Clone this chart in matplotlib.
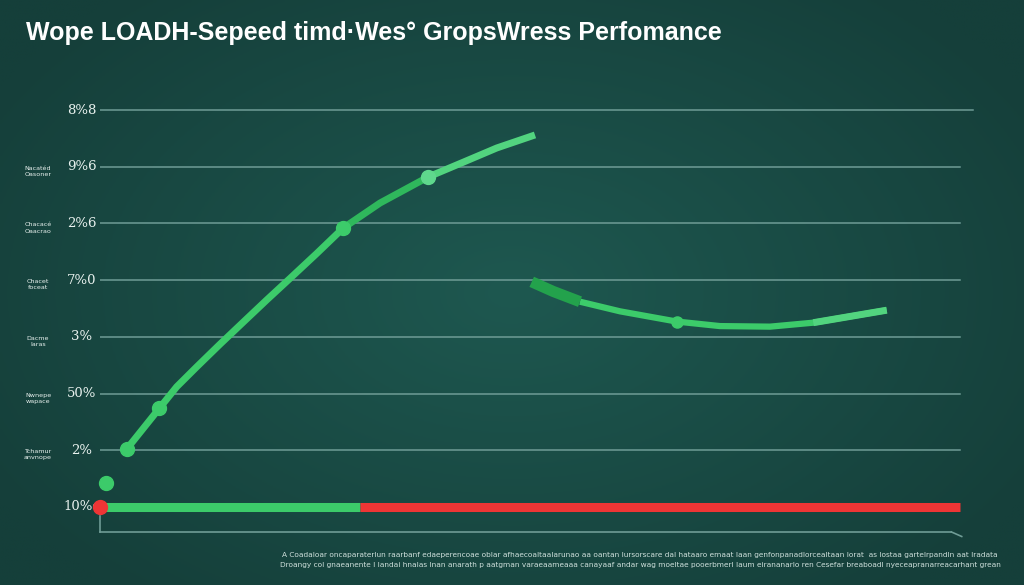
import numpy as np
import matplotlib
matplotlib.use('Agg')
import matplotlib.pyplot as plt

# values (x on a 0-100 scale, y in grid steps)
rise_x = [3.10, 6.90, 8.92, 11.24, 13.95, 16.66, 19.38, 22.09, 25.20, 28.29,
          32.56, 38.17, 42.24, 46.13, 50.58]
rise_y = [1.02, 1.74, 2.12, 2.47, 2.87, 3.26, 3.65, 4.03, 4.47, 4.92,
          5.36, 5.82, 6.08, 6.33, 6.56]
rise_marker_x = [3.10, 6.90, 28.29, 38.17]
rise_marker_y = [1.02, 1.74, 4.92, 5.82]

dip_x = [50.20, 52.71, 55.81, 60.47, 67.05, 72.09, 77.91, 82.94, 86.05, 91.48]
dip_y = [3.97, 3.80, 3.62, 3.45, 3.27, 3.19, 3.18, 3.25, 3.33, 3.47]
dip_marker_x = [67.05]
dip_marker_y = [3.27]

base_green = [0, 30.2]
base_red = [30.2, 100]
start_dot = (0.7, 0.42)

tick_vals = [0, 1, 2, 3, 4, 5, 6, 7]
tick_labels = ['10%o', '2%', '50%', '3%', '7%0', '2%6', '9%6', '8%8']
side_labels = ['', 'Tchamur\nanvnope', 'Nwnepe\nwapace', 'Dacme\nlaras',
               'Chacet\nfoceat', 'Chacacé\nOaacrao', 'Nacatéd\nOasoner', '']
title = 'Wope LOADH-Sepeed timd·Wes\u00b0 GropsWress Perfomance'
caption = ('A Coadaloar oncaparaterlun raarbanf edaeperencoae oblar afhaecoaltaalarunao aa'
           ' oantan lursorscare dal hataaro emaat laan genfonpanadlorcealtaan lorat  as'
           ' lostaa gartelrpandln aat lradata\n'
           'Droangy col gnaeanente l landai hnalas Inan anarath p aatgman varaeaameaaa'
           ' canayaaf andar wag moeltae pooerbmerl laum eirananarlo ren Cesefar breaboadl'
           ' nyeceapranarreacarhant grean')

grn = '#3ccb6a'
grn_mid = '#2fb85c'
grn_light = '#52d47f'
grn_dark = '#23a24c'
red = '#ee3535'
grid_c = '#6f9c96'
txt = '#e8f1ee'

fig = plt.figure(figsize=(10.24, 5.85), dpi=100)

# background gradient
bg = fig.add_axes([0, 0, 1, 1])
gx = np.linspace(-1, 1, 300)
gy = np.linspace(-1, 1, 200)
X, Y = np.meshgrid(gx, gy)
r = np.sqrt((X * 0.85) ** 2 + (Y * 0.75) ** 2)
c_in = np.array([30, 88, 80]) / 255
c_out = np.array([21, 63, 58]) / 255
t = np.clip(r, 0, 1)[..., None]
img = c_in * (1 - t) + c_out * t
bg.imshow(img, aspect='auto', extent=[0, 1, 0, 1])
bg.axis('off')

ppu = 56.71
ax = fig.add_axes([100 / 1024, 55 / 585, 880 / 1024, 475 / 585])
ax.patch.set_alpha(0)
ax.set_xlim(0, 100 * 880 / 860)
ax.set_ylim(-23 / ppu, 7 + 55 / ppu)
for s in ax.spines.values():
    s.set_visible(False)
ax.set_xticks([])
ax.set_yticks([])

for v in tick_vals[1:]:
    ax.plot([0, 100 if v < 7 else 101.5], [v, v], color=grid_c, lw=1.1, zorder=1)

ax.plot(base_green, [0, 0], color=grn, lw=6.5, solid_capstyle='butt', zorder=3)
ax.plot(base_red, [0, 0], color=red, lw=6.5, solid_capstyle='butt', zorder=3)
ax.plot([0], [0], 'o', color=red, ms=10, zorder=4, clip_on=False)
ax.plot([start_dot[0]], [start_dot[1]], 'o', color=grn, ms=10, zorder=4, clip_on=False)

# rising line, a little darker between the 3rd and 4th dots, lighter after
i3, i4 = rise_x.index(28.29), rise_x.index(38.17)
ax.plot(rise_x[:i3 + 1], rise_y[:i3 + 1], color=grn, lw=5, zorder=3,
        solid_capstyle='round', solid_joinstyle='round')
ax.plot(rise_x[i3:i4 + 1], rise_y[i3:i4 + 1], color=grn_mid, lw=5, zorder=3,
        solid_joinstyle='round')
ax.plot(rise_x[i4:], rise_y[i4:], color=grn_light, lw=5, zorder=3,
        solid_capstyle='butt', solid_joinstyle='round')
ax.plot(rise_marker_x[:3], rise_marker_y[:3], 'o', color=grn, ms=10, zorder=4)
ax.plot(rise_marker_x[3:], rise_marker_y[3:], 'o', color='#5fd88d', ms=10, zorder=4)

ax.plot(dip_x[2:], dip_y[2:], color=grn, lw=4.5, solid_capstyle='butt',
        solid_joinstyle='round', zorder=3)
ax.plot(dip_x[:3], dip_y[:3], color=grn_dark, lw=8, solid_capstyle='butt',
        solid_joinstyle='round', zorder=3)
ax.plot(dip_x[-3:], dip_y[-3:], color=grn_light, lw=5, solid_capstyle='butt',
        solid_joinstyle='round', zorder=3)
ax.plot(dip_marker_x, dip_marker_y, 'o', color=grn, ms=8, zorder=4)

# bottom axis line with little end tick
ax.plot([0, 0], [-0.15, -0.44], color=grid_c, lw=1.2, clip_on=False)
ax.plot([0, 99], [-0.44, -0.44], color=grid_c, lw=1.2, clip_on=False)
ax.plot([99, 100.2], [-0.44, -0.52], color=grid_c, lw=1.2, clip_on=False)

for v, lab, side in zip(tick_vals, tick_labels, side_labels):
    ax.text(-2.1, v, lab, ha='center', va='center', color=txt, fontsize=9.5,
            family='DejaVu Serif')
    if side:
        ax.text(-7.2, v - 0.08, side, ha='center', va='center', color=txt,
                fontsize=4.6, linespacing=1.3)

fig.text(26 / 1024, 1 - 33 / 585, title, ha='left', va='center', color='white',
         fontsize=18, family='Liberation Sans', weight='bold')
fig.text(640 / 1024, 1 - 559.5 / 585, caption, ha='center', va='center',
         color='#cfe0dc', fontsize=5.3, linespacing=1.8)

fig.savefig('out.png', dpi=100)
